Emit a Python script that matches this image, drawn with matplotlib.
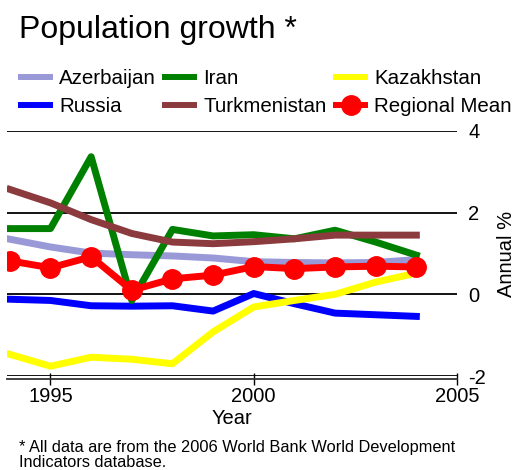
import numpy as np
import matplotlib
matplotlib.use("Agg")
import matplotlib.pyplot as plt

plt.rcParams['font.family'] = ['Liberation Sans', 'DejaVu Sans']

years = np.arange(1994, 2005)

azerbaijan = [1.35, 1.16, 1.01, 0.97, 0.94, 0.89, 0.80, 0.78, 0.77, 0.78, 0.85]
iran = [1.61, 1.61, 3.37, -0.15, 1.59, 1.43, 1.46, 1.36, 1.57, 1.28, 0.96]
kazakhstan = [-1.47, -1.76, -1.54, -1.59, -1.70, -0.92, -0.31, -0.15, 0.0, 0.30, 0.52]
russia = [-0.12, -0.15, -0.28, -0.29, -0.28, -0.41, 0.02, -0.23, -0.46, -0.50, -0.54]
turkmenistan = [2.57, 2.24, 1.83, 1.49, 1.28, 1.24, 1.29, 1.36, 1.45, 1.45, 1.45]
regional_mean = [0.82, 0.65, 0.92, 0.10, 0.38, 0.47, 0.68, 0.63, 0.67, 0.69, 0.67]

y_ticks = [-2, 0, 2, 4]
x_ticks = [1995, 2000, 2005]

fig = plt.figure(figsize=(5.17, 4.70), dpi=100)
ax = fig.add_axes([7 / 517, 94 / 470, 450 / 517, 245 / 470])

lw = 5
l_az, = ax.plot(years, azerbaijan, color="#9999d8", lw=lw, label="Azerbaijan")
l_ru, = ax.plot(years, russia, color="#0000ff", lw=lw, label="Russia")
l_ir, = ax.plot(years, iran, color="#008000", lw=lw, label="Iran")
l_tu, = ax.plot(years, turkmenistan, color="#8b3a3e", lw=lw, label="Turkmenistan")
l_ka, = ax.plot(years, kazakhstan, color="#ffff00", lw=lw, label="Kazakhstan")
l_me, = ax.plot(years, regional_mean, color="#ff0000", lw=lw, marker="o",
                markersize=14, label="Regional Mean")

ax.set_xlim(1993.93, 2005)
ax.set_ylim(-2, 4)

# horizontal grid lines
for v in y_ticks:
    ax.axhline(v, color="black", lw=1.3, zorder=0)

for s in ["top", "left", "right"]:
    ax.spines[s].set_visible(False)
ax.spines["bottom"].set_position(("outward", 2))
ax.spines["bottom"].set_linewidth(1.3)
ax.spines["bottom"].set_color("#333333")

ax.set_xticks(x_ticks)
ax.set_xticklabels([str(x) for x in x_ticks], fontsize=14.5)
ax.tick_params(axis="x", direction="inout", length=8, width=1, pad=2)

ax.yaxis.tick_right()
ax.yaxis.set_label_position("right")
ax.set_yticks(y_ticks)
ax.set_yticklabels([str(v) for v in y_ticks], fontsize=14.5)
ax.tick_params(axis="y", length=0, pad=8)

ax.set_xlabel("Year", fontsize=14.5, labelpad=2)
ax.set_ylabel("Annual %", fontsize=14.5, labelpad=8)

fig.text(19 / 517, 1 - 38 / 470, "Population growth *", fontsize=23)

leg = fig.legend(handles=[l_az, l_ru, l_ir, l_tu, l_ka, l_me], ncol=3,
                 loc="upper left", bbox_to_anchor=(21 / 517, 1 - 69 / 470),
                 frameon=False, fontsize=14.8, handlelength=1.4, handletextpad=0.45,
                 columnspacing=0.46, labelspacing=0.45, borderpad=0, borderaxespad=0)
for h in leg.legend_handles:
    h.set_linewidth(4.3)

fig.text(19 / 517, 1 - 467 / 470,
         "* All data are from the 2006 World Bank World Development\nIndicators database.",
         fontsize=11.8, linespacing=0.98)

fig.savefig("out.png", dpi=100)
